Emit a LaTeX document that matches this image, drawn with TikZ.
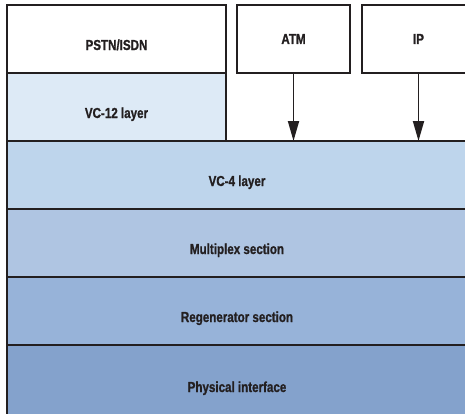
\documentclass[tikz,border=0pt]{standalone}
\usepackage{fontspec}
\setmainfont{Liberation Sans}
\newfontfamily\boxfont{Liberation Sans Bold}[FakeStretch=0.8, FakeBold=1]
\usetikzlibrary{positioning,arrows.meta}

\definecolor{inkc}{HTML}{231F20}
\definecolor{vctwelvec}{HTML}{DDEAF6}
\definecolor{vcfourc}{HTML}{BED5EC}
\definecolor{muxc}{HTML}{AFC5E2}
\definecolor{regenc}{HTML}{97B3D9}
\definecolor{physc}{HTML}{84A2CC}

\begin{document}
\begin{tikzpicture}[
    x=1pt, y=-1pt,
    % Node styles
    client/.style={rectangle, draw=inkc, line width=1.6pt, fill=white,
                   minimum width=113pt, minimum height=68pt, inner sep=0pt,
                   outer sep=0pt, text=inkc,
                   font=\boxfont\fontsize{14.5}{16}\selectfont},
    layer/.style={client, minimum width=460pt, text height=22pt, text depth=0pt},
    arrow/.style={line width=1.8pt, -{Triangle[length=20pt, width=11pt]}, inkc}
]
\useasboundingbox (0,0) rectangle (465,413);
\clip (0,0) rectangle (465,413);

% 1. Client services on the left
\node[layer, minimum width=219pt, anchor=north west] (pstn) at (7,5) {PSTN/ISDN};
\node[layer, minimum width=219pt, fill=vctwelvec, below=0pt of pstn] (vc12) {VC-12 layer};

% 2. Client services mapped straight into VC-4
\node[client, anchor=north west] (atm) at (237,5) {ATM};
\node[client, right=12pt of atm] (ip) {IP};

% 3. Layer stack
\node[layer, fill=vcfourc, anchor=north west] (vc4) at (vc12.south west) {VC-4 layer};
\node[layer, fill=muxc, below=0pt of vc4] (mux) {Multiplex section};
\node[layer, fill=regenc, below=0pt of mux] (regen) {Regenerator section};
\node[layer, fill=physc, minimum height=76pt, text height=18pt, below=0pt of regen] (phys) {Physical interface};

% Mapping arrows
\draw[arrow] (atm) -- (atm |- vc4.north);
\draw[arrow] (ip) -- (ip |- vc4.north);

\end{tikzpicture}
\end{document}
